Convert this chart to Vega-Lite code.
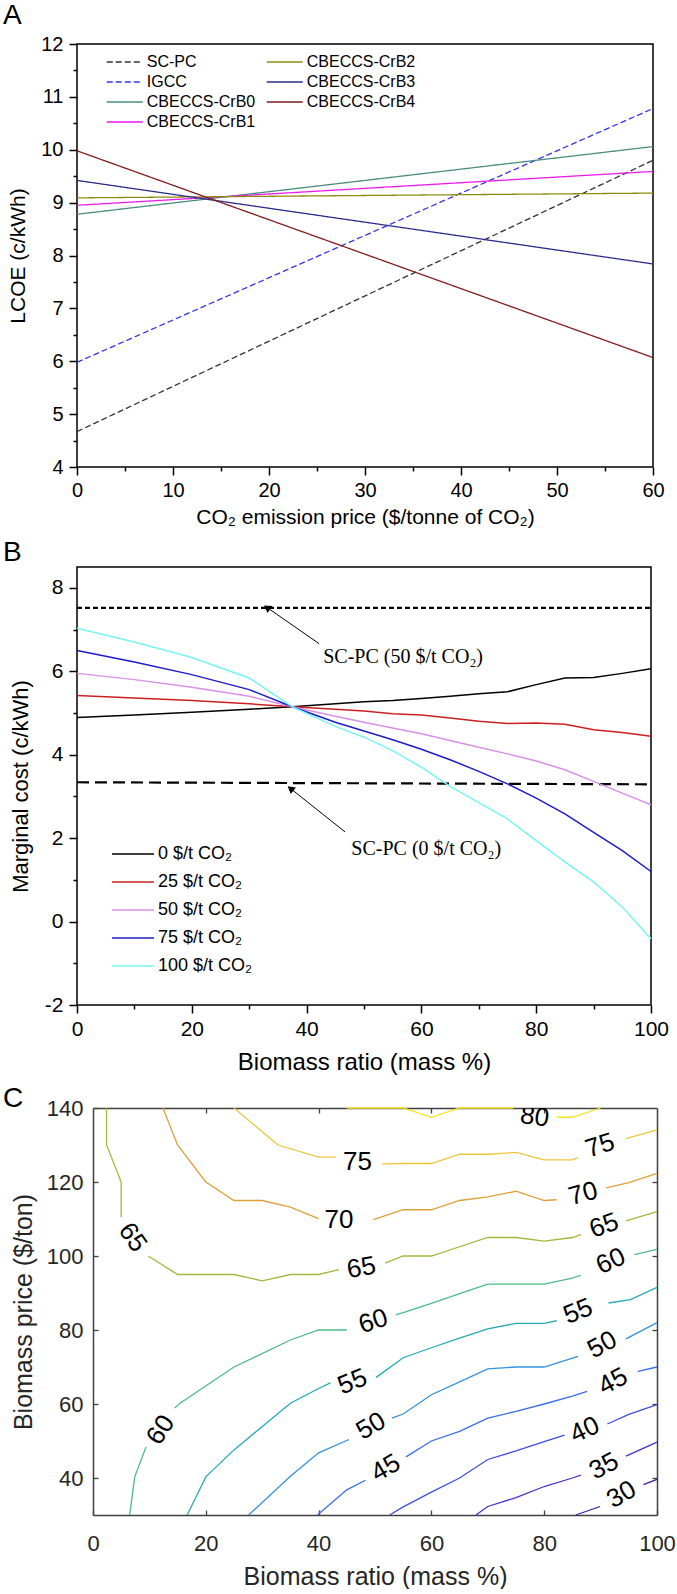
{
"$schema": "https://vega.github.io/schema/vega-lite/v6.json",
"background": "white",
"padding": {"left": 2, "top": 1, "right": 0, "bottom": 0},
"columns": 1,
"bounds": "full",
"spacing": 10,
"resolve": {"scale": {"color": "independent", "strokeDash": "independent"}, "legend": {"color": "independent", "strokeDash": "independent"}},
"config": {
  "font": "Liberation Sans",
  "axis": {"labelColor": "black", "titleColor": "black", "titleFontWeight": "normal", "grid": false, "labelFlush": false},
  "title": {"fontWeight": "normal", "color": "black", "anchor": "start", "frame": "group"},
  "legend": {"labelColor": "black"}
},
"datasets": {
  "lcoe": [
    {"s": "SC-PC", "x": 0, "y": 4.67}, {"s": "SC-PC", "x": 60, "y": 9.8},
    {"s": "IGCC", "x": 0, "y": 5.98}, {"s": "IGCC", "x": 60, "y": 10.78},
    {"s": "CBECCS-CrB0", "x": 0, "y": 8.78}, {"s": "CBECCS-CrB0", "x": 60, "y": 10.06},
    {"s": "CBECCS-CrB1", "x": 0, "y": 8.95}, {"s": "CBECCS-CrB1", "x": 60, "y": 9.59},
    {"s": "CBECCS-CrB2", "x": 0, "y": 9.09}, {"s": "CBECCS-CrB2", "x": 60, "y": 9.18},
    {"s": "CBECCS-CrB3", "x": 0, "y": 9.42}, {"s": "CBECCS-CrB3", "x": 60, "y": 7.84},
    {"s": "CBECCS-CrB4", "x": 0, "y": 9.98}, {"s": "CBECCS-CrB4", "x": 60, "y": 6.07}
  ],
  "marg": [
    {"s": "0 $/t CO₂", "x": 0, "y": 4.89}, {"s": "0 $/t CO₂", "x": 10, "y": 4.95}, {"s": "0 $/t CO₂", "x": 20, "y": 5.02}, {"s": "0 $/t CO₂", "x": 30, "y": 5.09}, {"s": "0 $/t CO₂", "x": 37.5, "y": 5.15}, {"s": "0 $/t CO₂", "x": 45, "y": 5.22}, {"s": "0 $/t CO₂", "x": 50, "y": 5.27}, {"s": "0 $/t CO₂", "x": 55, "y": 5.3}, {"s": "0 $/t CO₂", "x": 60, "y": 5.35}, {"s": "0 $/t CO₂", "x": 65, "y": 5.4}, {"s": "0 $/t CO₂", "x": 70, "y": 5.46}, {"s": "0 $/t CO₂", "x": 75, "y": 5.51}, {"s": "0 $/t CO₂", "x": 80, "y": 5.68}, {"s": "0 $/t CO₂", "x": 85, "y": 5.84}, {"s": "0 $/t CO₂", "x": 90, "y": 5.85}, {"s": "0 $/t CO₂", "x": 95, "y": 5.95}, {"s": "0 $/t CO₂", "x": 100, "y": 6.06},
    {"s": "25 $/t CO₂", "x": 0, "y": 5.42}, {"s": "25 $/t CO₂", "x": 10, "y": 5.36}, {"s": "25 $/t CO₂", "x": 20, "y": 5.3}, {"s": "25 $/t CO₂", "x": 30, "y": 5.22}, {"s": "25 $/t CO₂", "x": 37.5, "y": 5.15}, {"s": "25 $/t CO₂", "x": 45, "y": 5.09}, {"s": "25 $/t CO₂", "x": 50, "y": 5.05}, {"s": "25 $/t CO₂", "x": 55, "y": 4.98}, {"s": "25 $/t CO₂", "x": 60, "y": 4.95}, {"s": "25 $/t CO₂", "x": 65, "y": 4.88}, {"s": "25 $/t CO₂", "x": 70, "y": 4.8}, {"s": "25 $/t CO₂", "x": 75, "y": 4.75}, {"s": "25 $/t CO₂", "x": 80, "y": 4.76}, {"s": "25 $/t CO₂", "x": 85, "y": 4.73}, {"s": "25 $/t CO₂", "x": 90, "y": 4.6}, {"s": "25 $/t CO₂", "x": 95, "y": 4.53}, {"s": "25 $/t CO₂", "x": 100, "y": 4.44},
    {"s": "50 $/t CO₂", "x": 0, "y": 5.95}, {"s": "50 $/t CO₂", "x": 10, "y": 5.8}, {"s": "50 $/t CO₂", "x": 20, "y": 5.62}, {"s": "50 $/t CO₂", "x": 30, "y": 5.4}, {"s": "50 $/t CO₂", "x": 37.5, "y": 5.15}, {"s": "50 $/t CO₂", "x": 45, "y": 4.92}, {"s": "50 $/t CO₂", "x": 50, "y": 4.78}, {"s": "50 $/t CO₂", "x": 55, "y": 4.64}, {"s": "50 $/t CO₂", "x": 60, "y": 4.5}, {"s": "50 $/t CO₂", "x": 65, "y": 4.34}, {"s": "50 $/t CO₂", "x": 70, "y": 4.18}, {"s": "50 $/t CO₂", "x": 75, "y": 4.02}, {"s": "50 $/t CO₂", "x": 80, "y": 3.85}, {"s": "50 $/t CO₂", "x": 85, "y": 3.64}, {"s": "50 $/t CO₂", "x": 90, "y": 3.36}, {"s": "50 $/t CO₂", "x": 95, "y": 3.08}, {"s": "50 $/t CO₂", "x": 100, "y": 2.8},
    {"s": "75 $/t CO₂", "x": 0, "y": 6.5}, {"s": "75 $/t CO₂", "x": 10, "y": 6.22}, {"s": "75 $/t CO₂", "x": 20, "y": 5.92}, {"s": "75 $/t CO₂", "x": 30, "y": 5.56}, {"s": "75 $/t CO₂", "x": 37.5, "y": 5.15}, {"s": "75 $/t CO₂", "x": 45, "y": 4.78}, {"s": "75 $/t CO₂", "x": 50, "y": 4.57}, {"s": "75 $/t CO₂", "x": 55, "y": 4.36}, {"s": "75 $/t CO₂", "x": 60, "y": 4.13}, {"s": "75 $/t CO₂", "x": 65, "y": 3.88}, {"s": "75 $/t CO₂", "x": 70, "y": 3.6}, {"s": "75 $/t CO₂", "x": 75, "y": 3.3}, {"s": "75 $/t CO₂", "x": 80, "y": 2.96}, {"s": "75 $/t CO₂", "x": 85, "y": 2.58}, {"s": "75 $/t CO₂", "x": 90, "y": 2.14}, {"s": "75 $/t CO₂", "x": 95, "y": 1.7}, {"s": "75 $/t CO₂", "x": 100, "y": 1.2},
    {"s": "100 $/t CO₂", "x": 0, "y": 7.03}, {"s": "100 $/t CO₂", "x": 10, "y": 6.7}, {"s": "100 $/t CO₂", "x": 20, "y": 6.33}, {"s": "100 $/t CO₂", "x": 30, "y": 5.84}, {"s": "100 $/t CO₂", "x": 37.5, "y": 5.15}, {"s": "100 $/t CO₂", "x": 45, "y": 4.68}, {"s": "100 $/t CO₂", "x": 50, "y": 4.42}, {"s": "100 $/t CO₂", "x": 55, "y": 4.1}, {"s": "100 $/t CO₂", "x": 60, "y": 3.7}, {"s": "100 $/t CO₂", "x": 65, "y": 3.24}, {"s": "100 $/t CO₂", "x": 70, "y": 2.85}, {"s": "100 $/t CO₂", "x": 75, "y": 2.46}, {"s": "100 $/t CO₂", "x": 80, "y": 1.94}, {"s": "100 $/t CO₂", "x": 85, "y": 1.43}, {"s": "100 $/t CO₂", "x": 90, "y": 0.95}, {"s": "100 $/t CO₂", "x": 95, "y": 0.35}, {"s": "100 $/t CO₂", "x": 100, "y": -0.41}
  ],
  "refs": [
    {"r": "50", "x": 0, "y": 7.52}, {"r": "50", "x": 100, "y": 7.52},
    {"r": "0", "x": 0, "y": 3.34}, {"r": "0", "x": 100, "y": 3.29}
  ],
  "arrows": [
    {"a": "u", "x": 42.2, "y": 6.66}, {"a": "u", "x": 33.1, "y": 7.53},
    {"a": "l", "x": 46.7, "y": 2.15}, {"a": "l", "x": 37.2, "y": 3.19}
  ],
  "heads": [
    {"x": 33.1, "y": 7.53, "angle": 305},
    {"x": 37.2, "y": 3.19, "angle": 309}
  ],
  "notes": [
    {"x": 42.9, "y": 6.35, "t": "SC-PC (50 $/t CO₂)"},
    {"x": 47.8, "y": 1.75, "t": "SC-PC (0 $/t CO₂)"}
  ],
  "contours": [
    {"lv": 80, "sg": "80a", "i": 0, "x": 45, "y": 140}, {"lv": 80, "sg": "80a", "i": 1, "x": 55, "y": 140}, {"lv": 80, "sg": "80a", "i": 2, "x": 60, "y": 137.5}, {"lv": 80, "sg": "80a", "i": 3, "x": 65, "y": 140}, {"lv": 80, "sg": "80a", "i": 4, "x": 74.5, "y": 140},
    {"lv": 80, "sg": "80b", "i": 0, "x": 82.2, "y": 137.5}, {"lv": 80, "sg": "80b", "i": 1, "x": 85, "y": 137.5}, {"lv": 80, "sg": "80b", "i": 2, "x": 90, "y": 140},
    {"lv": 75, "sg": "75a", "i": 0, "x": 25, "y": 140}, {"lv": 75, "sg": "75a", "i": 1, "x": 32.8, "y": 130}, {"lv": 75, "sg": "75a", "i": 2, "x": 40, "y": 126.7}, {"lv": 75, "sg": "75a", "i": 3, "x": 43, "y": 126.7},
    {"lv": 75, "sg": "75b", "i": 0, "x": 51.3, "y": 124.9}, {"lv": 75, "sg": "75b", "i": 1, "x": 55, "y": 125}, {"lv": 75, "sg": "75b", "i": 2, "x": 60, "y": 125}, {"lv": 75, "sg": "75b", "i": 3, "x": 65, "y": 127.5}, {"lv": 75, "sg": "75b", "i": 4, "x": 70, "y": 127.5}, {"lv": 75, "sg": "75b", "i": 5, "x": 75, "y": 128}, {"lv": 75, "sg": "75b", "i": 6, "x": 80, "y": 126}, {"lv": 75, "sg": "75b", "i": 7, "x": 85, "y": 126}, {"lv": 75, "sg": "75b", "i": 8, "x": 86, "y": 126.6},
    {"lv": 75, "sg": "75c", "i": 0, "x": 94.5, "y": 131.7}, {"lv": 75, "sg": "75c", "i": 1, "x": 100, "y": 134.1},
    {"lv": 70, "sg": "70a", "i": 0, "x": 12.4, "y": 140}, {"lv": 70, "sg": "70a", "i": 1, "x": 15, "y": 130}, {"lv": 70, "sg": "70a", "i": 2, "x": 20, "y": 120}, {"lv": 70, "sg": "70a", "i": 3, "x": 25, "y": 115}, {"lv": 70, "sg": "70a", "i": 4, "x": 30, "y": 115}, {"lv": 70, "sg": "70a", "i": 5, "x": 35, "y": 113.2}, {"lv": 70, "sg": "70a", "i": 6, "x": 40, "y": 110.1},
    {"lv": 70, "sg": "70b", "i": 0, "x": 49.7, "y": 109.8}, {"lv": 70, "sg": "70b", "i": 1, "x": 55, "y": 112.5}, {"lv": 70, "sg": "70b", "i": 2, "x": 60, "y": 112.5}, {"lv": 70, "sg": "70b", "i": 3, "x": 65, "y": 115}, {"lv": 70, "sg": "70b", "i": 4, "x": 70, "y": 116}, {"lv": 70, "sg": "70b", "i": 5, "x": 75, "y": 117.5}, {"lv": 70, "sg": "70b", "i": 6, "x": 80, "y": 115}, {"lv": 70, "sg": "70b", "i": 7, "x": 82.2, "y": 115.2},
    {"lv": 70, "sg": "70c", "i": 0, "x": 91, "y": 118.4}, {"lv": 70, "sg": "70c", "i": 1, "x": 95, "y": 119.8}, {"lv": 70, "sg": "70c", "i": 2, "x": 100, "y": 122.3},
    {"lv": 65, "sg": "65a", "i": 0, "x": 2.4, "y": 140}, {"lv": 65, "sg": "65a", "i": 1, "x": 2.4, "y": 130}, {"lv": 65, "sg": "65a", "i": 2, "x": 5, "y": 120}, {"lv": 65, "sg": "65a", "i": 3, "x": 5, "y": 110.5},
    {"lv": 65, "sg": "65b", "i": 0, "x": 9.8, "y": 100}, {"lv": 65, "sg": "65b", "i": 1, "x": 15, "y": 95}, {"lv": 65, "sg": "65b", "i": 2, "x": 25, "y": 95}, {"lv": 65, "sg": "65b", "i": 3, "x": 30, "y": 93.3}, {"lv": 65, "sg": "65b", "i": 4, "x": 35, "y": 95}, {"lv": 65, "sg": "65b", "i": 5, "x": 40, "y": 95}, {"lv": 65, "sg": "65b", "i": 6, "x": 43.6, "y": 96.3},
    {"lv": 65, "sg": "65c", "i": 0, "x": 51.8, "y": 98.1}, {"lv": 65, "sg": "65c", "i": 1, "x": 55, "y": 100}, {"lv": 65, "sg": "65c", "i": 2, "x": 60, "y": 100}, {"lv": 65, "sg": "65c", "i": 3, "x": 65, "y": 102.5}, {"lv": 65, "sg": "65c", "i": 4, "x": 70, "y": 105}, {"lv": 65, "sg": "65c", "i": 5, "x": 75, "y": 105}, {"lv": 65, "sg": "65c", "i": 6, "x": 80, "y": 104}, {"lv": 65, "sg": "65c", "i": 7, "x": 85, "y": 105}, {"lv": 65, "sg": "65c", "i": 8, "x": 86.5, "y": 105.8},
    {"lv": 65, "sg": "65d", "i": 0, "x": 94.5, "y": 109.5}, {"lv": 65, "sg": "65d", "i": 1, "x": 100, "y": 112},
    {"lv": 60, "sg": "60a", "i": 0, "x": 6.5, "y": 30}, {"lv": 60, "sg": "60a", "i": 1, "x": 7.4, "y": 40.3}, {"lv": 60, "sg": "60a", "i": 2, "x": 9.4, "y": 48.4},
    {"lv": 60, "sg": "60b", "i": 0, "x": 14.5, "y": 58.9}, {"lv": 60, "sg": "60b", "i": 1, "x": 15.5, "y": 60.3}, {"lv": 60, "sg": "60b", "i": 2, "x": 25, "y": 70}, {"lv": 60, "sg": "60b", "i": 3, "x": 35, "y": 77.3}, {"lv": 60, "sg": "60b", "i": 4, "x": 40, "y": 80}, {"lv": 60, "sg": "60b", "i": 5, "x": 45, "y": 80},
    {"lv": 60, "sg": "60c", "i": 0, "x": 53.7, "y": 84.1}, {"lv": 60, "sg": "60c", "i": 1, "x": 55, "y": 84.7}, {"lv": 60, "sg": "60c", "i": 2, "x": 60, "y": 87.2}, {"lv": 60, "sg": "60c", "i": 3, "x": 65, "y": 89.8}, {"lv": 60, "sg": "60c", "i": 4, "x": 70, "y": 92.4}, {"lv": 60, "sg": "60c", "i": 5, "x": 75, "y": 92.4}, {"lv": 60, "sg": "60c", "i": 6, "x": 80, "y": 92.4}, {"lv": 60, "sg": "60c", "i": 7, "x": 85, "y": 94}, {"lv": 60, "sg": "60c", "i": 8, "x": 86.5, "y": 94.8},
    {"lv": 60, "sg": "60d", "i": 0, "x": 96, "y": 100.4}, {"lv": 60, "sg": "60d", "i": 1, "x": 100, "y": 101.8},
    {"lv": 55, "sg": "55a", "i": 0, "x": 16.7, "y": 30}, {"lv": 55, "sg": "55a", "i": 1, "x": 20, "y": 40.3}, {"lv": 55, "sg": "55a", "i": 2, "x": 25, "y": 47.6}, {"lv": 55, "sg": "55a", "i": 3, "x": 35, "y": 60.2}, {"lv": 55, "sg": "55a", "i": 4, "x": 40, "y": 64.2}, {"lv": 55, "sg": "55a", "i": 5, "x": 42.1, "y": 65.7},
    {"lv": 55, "sg": "55b", "i": 0, "x": 50.2, "y": 67.2}, {"lv": 55, "sg": "55b", "i": 1, "x": 55, "y": 72.5}, {"lv": 55, "sg": "55b", "i": 2, "x": 60, "y": 75.2}, {"lv": 55, "sg": "55b", "i": 3, "x": 65, "y": 77.8}, {"lv": 55, "sg": "55b", "i": 4, "x": 70, "y": 80.3}, {"lv": 55, "sg": "55b", "i": 5, "x": 75, "y": 81.8}, {"lv": 55, "sg": "55b", "i": 6, "x": 80, "y": 81.8}, {"lv": 55, "sg": "55b", "i": 7, "x": 82.2, "y": 82.5},
    {"lv": 55, "sg": "55c", "i": 0, "x": 91.4, "y": 87.3}, {"lv": 55, "sg": "55c", "i": 1, "x": 95.3, "y": 88.2}, {"lv": 55, "sg": "55c", "i": 2, "x": 100, "y": 91.5},
    {"lv": 50, "sg": "50a", "i": 0, "x": 27.6, "y": 30}, {"lv": 50, "sg": "50a", "i": 1, "x": 35, "y": 40.5}, {"lv": 50, "sg": "50a", "i": 2, "x": 40, "y": 46.8}, {"lv": 50, "sg": "50a", "i": 3, "x": 45.4, "y": 50.4},
    {"lv": 50, "sg": "50b", "i": 0, "x": 53, "y": 56.2}, {"lv": 50, "sg": "50b", "i": 1, "x": 55, "y": 57.3}, {"lv": 50, "sg": "50b", "i": 2, "x": 60, "y": 62.5}, {"lv": 50, "sg": "50b", "i": 3, "x": 65, "y": 66}, {"lv": 50, "sg": "50b", "i": 4, "x": 70, "y": 69.5}, {"lv": 50, "sg": "50b", "i": 5, "x": 75, "y": 70}, {"lv": 50, "sg": "50b", "i": 6, "x": 80, "y": 70}, {"lv": 50, "sg": "50b", "i": 7, "x": 86, "y": 72.9},
    {"lv": 50, "sg": "50c", "i": 0, "x": 94.5, "y": 77.6}, {"lv": 50, "sg": "50c", "i": 1, "x": 100, "y": 82},
    {"lv": 45, "sg": "45a", "i": 0, "x": 39.8, "y": 30}, {"lv": 45, "sg": "45a", "i": 1, "x": 45, "y": 36.8}, {"lv": 45, "sg": "45a", "i": 2, "x": 48.3, "y": 39.4},
    {"lv": 45, "sg": "45b", "i": 0, "x": 55.5, "y": 45.7}, {"lv": 45, "sg": "45b", "i": 1, "x": 60, "y": 50}, {"lv": 45, "sg": "45b", "i": 2, "x": 65, "y": 52.6}, {"lv": 45, "sg": "45b", "i": 3, "x": 70, "y": 56.2}, {"lv": 45, "sg": "45b", "i": 4, "x": 75, "y": 58}, {"lv": 45, "sg": "45b", "i": 5, "x": 80, "y": 60}, {"lv": 45, "sg": "45b", "i": 6, "x": 85, "y": 62.1}, {"lv": 45, "sg": "45b", "i": 7, "x": 87.6, "y": 63.4},
    {"lv": 45, "sg": "45c", "i": 0, "x": 96.6, "y": 68.8}, {"lv": 45, "sg": "45c", "i": 1, "x": 100, "y": 70},
    {"lv": 40, "sg": "40a", "i": 0, "x": 52.6, "y": 30}, {"lv": 40, "sg": "40a", "i": 1, "x": 55, "y": 32.2}, {"lv": 40, "sg": "40a", "i": 2, "x": 60, "y": 36.2}, {"lv": 40, "sg": "40a", "i": 3, "x": 65, "y": 40}, {"lv": 40, "sg": "40a", "i": 4, "x": 70, "y": 45}, {"lv": 40, "sg": "40a", "i": 5, "x": 75, "y": 47.3}, {"lv": 40, "sg": "40a", "i": 6, "x": 80, "y": 49.8}, {"lv": 40, "sg": "40a", "i": 7, "x": 83.6, "y": 51.6},
    {"lv": 40, "sg": "40b", "i": 0, "x": 91.2, "y": 54.6}, {"lv": 40, "sg": "40b", "i": 1, "x": 95, "y": 57.2}, {"lv": 40, "sg": "40b", "i": 2, "x": 100, "y": 59.8},
    {"lv": 35, "sg": "35a", "i": 0, "x": 67.9, "y": 30}, {"lv": 35, "sg": "35a", "i": 1, "x": 70, "y": 32.3}, {"lv": 35, "sg": "35a", "i": 2, "x": 75, "y": 34.7}, {"lv": 35, "sg": "35a", "i": 3, "x": 80, "y": 37.7}, {"lv": 35, "sg": "35a", "i": 4, "x": 85, "y": 40}, {"lv": 35, "sg": "35a", "i": 5, "x": 86.5, "y": 40.8},
    {"lv": 35, "sg": "35b", "i": 0, "x": 94.5, "y": 45.9}, {"lv": 35, "sg": "35b", "i": 1, "x": 100, "y": 49.7},
    {"lv": 30, "sg": "30a", "i": 0, "x": 85.6, "y": 30}, {"lv": 30, "sg": "30a", "i": 1, "x": 89.9, "y": 32.3},
    {"lv": 30, "sg": "30b", "i": 0, "x": 97.6, "y": 38.2}, {"lv": 30, "sg": "30b", "i": 1, "x": 100, "y": 39.6}
  ],
  "clabels": [
    {"lv": 80, "x": 78.3, "y": 137.6, "angle": 8},
    {"lv": 75, "x": 46.9, "y": 125.3, "angle": 0}, {"lv": 75, "x": 89.9, "y": 129.8, "angle": -18},
    {"lv": 70, "x": 43.6, "y": 109.6, "angle": 0}, {"lv": 70, "x": 86.9, "y": 116.8, "angle": -15},
    {"lv": 65, "x": 7.0, "y": 105.0, "angle": 55}, {"lv": 65, "x": 47.6, "y": 96.8, "angle": -10}, {"lv": 65, "x": 90.6, "y": 108.2, "angle": -20},
    {"lv": 60, "x": 12.0, "y": 53.0, "angle": -57}, {"lv": 60, "x": 49.7, "y": 82.3, "angle": -18}, {"lv": 60, "x": 91.8, "y": 98.6, "angle": -25},
    {"lv": 55, "x": 46.0, "y": 66.0, "angle": -22}, {"lv": 55, "x": 86.0, "y": 85.0, "angle": -22},
    {"lv": 50, "x": 49.3, "y": 54.0, "angle": -30}, {"lv": 50, "x": 90.3, "y": 76.0, "angle": -28},
    {"lv": 45, "x": 51.9, "y": 42.7, "angle": -30}, {"lv": 45, "x": 92.2, "y": 66.1, "angle": -28},
    {"lv": 40, "x": 87.2, "y": 53.0, "angle": -25},
    {"lv": 35, "x": 90.6, "y": 43.2, "angle": -28},
    {"lv": 30, "x": 93.7, "y": 35.5, "angle": -30}
  ]
},
"concat": [
  {
    "title": {"text": "A", "fontSize": 28, "dx": -74, "offset": 4},
    "width": 576, "height": 423,
    "view": {"stroke": "black", "strokeWidth": 1.5},
    "data": {"name": "lcoe"},
    "mark": {"type": "line", "strokeWidth": 1.3},
    "encoding": {
      "x": {"field": "x", "type": "quantitative", "scale": {"domain": [0, 60], "nice": false},
        "axis": {"values": [0, 5, 10, 15, 20, 25, 30, 35, 40, 45, 50, 55, 60],
          "labelExpr": "datum.value % 10 === 0 ? '' + datum.value : ''",
          "tickSize": {"condition": {"test": "datum.value % 10 === 0", "value": 8}, "value": 4},
          "tickColor": "black", "tickWidth": 1.5, "domain": false,
          "labelFontSize": 20, "labelPadding": 5,
          "title": "CO₂ emission price ($/tonne of CO₂)", "titleFontSize": 21, "titlePadding": 6}},
      "y": {"field": "y", "type": "quantitative", "scale": {"domain": [4, 12], "nice": false},
        "axis": {"values": [4, 4.5, 5, 5.5, 6, 6.5, 7, 7.5, 8, 8.5, 9, 9.5, 10, 10.5, 11, 11.5, 12],
          "labelExpr": "datum.value % 1 === 0 ? '' + datum.value : ''",
          "tickSize": {"condition": {"test": "datum.value % 1 === 0", "value": 8}, "value": 4},
          "tickColor": "black", "tickWidth": 1.5, "domain": false,
          "labelFontSize": 20, "labelPadding": 6,
          "title": "LCOE (c/kWh)", "titleFontSize": 21, "titlePadding": 12}},
      "color": {"field": "s", "type": "nominal",
        "scale": {"domain": ["SC-PC", "IGCC", "CBECCS-CrB0", "CBECCS-CrB1", "CBECCS-CrB2", "CBECCS-CrB3", "CBECCS-CrB4"],
                  "range": ["#333333", "#3535e8", "#4a8c80", "#ee1aee", "#8c8c10", "#2c2c8c", "#801c1c"]},
        "legend": {"orient": "none", "legendX": 38.75, "legendY": 9, "columns": 2, "title": null,
          "symbolType": "M-2.25,0H2.25", "symbolSize": 256, "symbolStrokeWidth": 1.5,
          "labelFontSize": 16, "rowPadding": 3, "columnPadding": 8, "labelOffset": 13, "padding": 0}},
      "strokeDash": {"field": "s", "type": "nominal",
        "scale": {"domain": ["SC-PC", "IGCC", "CBECCS-CrB0", "CBECCS-CrB1", "CBECCS-CrB2", "CBECCS-CrB3", "CBECCS-CrB4"],
                  "range": [[6, 3], [6, 3], [1, 0], [1, 0], [1, 0], [1, 0], [1, 0]]}}
    }
  },
  {
    "title": {"text": "B", "fontSize": 28, "dx": -74, "offset": 0},
    "width": 574, "height": 438,
    "view": {"stroke": "black", "strokeWidth": 1.5},
    "layer": [
      {
        "data": {"name": "refs"},
        "transform": [{"filter": "datum.r === '50'"}],
        "mark": {"type": "line", "color": "black", "strokeWidth": 2.2, "strokeDash": [5, 3]},
        "encoding": {
          "x": {"field": "x", "type": "quantitative", "scale": {"domain": [0, 100], "nice": false},
            "axis": {"values": [0, 10, 20, 30, 40, 50, 60, 70, 80, 90, 100],
              "labelExpr": "datum.value % 20 === 0 ? '' + datum.value : ''",
              "tickSize": {"condition": {"test": "datum.value % 20 === 0", "value": 8}, "value": 4},
              "tickColor": "black", "tickWidth": 1.5, "domain": false,
              "labelFontSize": 21, "labelPadding": 5,
              "title": "Biomass ratio (mass %)", "titleFontSize": 24, "titlePadding": 11}},
          "y": {"field": "y", "type": "quantitative", "scale": {"domain": [-2, 8.5], "nice": false},
            "axis": {"values": [-2, -1, 0, 1, 2, 3, 4, 5, 6, 7, 8],
              "labelExpr": "datum.value % 2 === 0 ? '' + datum.value : ''",
              "tickSize": {"condition": {"test": "datum.value % 2 === 0", "value": 8}, "value": 4},
              "tickColor": "black", "tickWidth": 1.5, "domain": false,
              "labelFontSize": 21, "labelPadding": 6,
              "title": "Marginal cost (c/kWh)", "titleFontSize": 22, "titlePadding": 12}}
        }
      },
      {
        "data": {"name": "refs"},
        "transform": [{"filter": "datum.r === '0'"}],
        "mark": {"type": "line", "color": "black", "strokeWidth": 2.2, "strokeDash": [12, 6]},
        "encoding": {
          "x": {"field": "x", "type": "quantitative"},
          "y": {"field": "y", "type": "quantitative"}
        }
      },
      {
        "data": {"name": "marg"},
        "mark": {"type": "line", "strokeWidth": 1.5},
        "encoding": {
          "x": {"field": "x", "type": "quantitative"},
          "y": {"field": "y", "type": "quantitative"},
          "color": {"field": "s", "type": "nominal",
            "scale": {"domain": ["0 $/t CO₂", "25 $/t CO₂", "50 $/t CO₂", "75 $/t CO₂", "100 $/t CO₂"],
                      "range": ["#000000", "#cc2020", "#d890e8", "#1c1cc8", "#78f4f4"]},
            "legend": {"orient": "none", "legendX": 46, "legendY": 277, "title": null,
              "symbolType": "M-2.333,0H2.333", "symbolSize": 324, "symbolStrokeWidth": 1.5,
              "labelFontSize": 18, "rowPadding": 9, "labelOffset": 15, "padding": 0}}
        }
      },
      {
        "data": {"name": "arrows"},
        "mark": {"type": "line", "color": "black", "strokeWidth": 1},
        "encoding": {
          "x": {"field": "x", "type": "quantitative"},
          "y": {"field": "y", "type": "quantitative"},
          "detail": {"field": "a"}
        }
      },
      {
        "data": {"name": "heads"},
        "mark": {"type": "point", "shape": "triangle-up", "filled": true, "color": "black", "size": 70, "opacity": 1},
        "encoding": {
          "x": {"field": "x", "type": "quantitative"},
          "y": {"field": "y", "type": "quantitative"},
          "angle": {"field": "angle", "type": "quantitative", "scale": null}
        }
      },
      {
        "data": {"name": "notes"},
        "mark": {"type": "text", "font": "Liberation Serif", "fontSize": 20, "align": "left", "baseline": "middle", "color": "black"},
        "encoding": {
          "x": {"field": "x", "type": "quantitative"},
          "y": {"field": "y", "type": "quantitative"},
          "text": {"field": "t"}
        }
      }
    ]
  },
  {
    "title": {"text": "C", "fontSize": 28, "dx": -74, "offset": -16},
    "width": 580, "height": 407,
    "view": {"stroke": null},
    "resolve": {"axis": {"x": "independent", "y": "independent"}},
    "layer": [
      {
        "data": {"name": "contours"},
        "mark": {"type": "line", "strokeWidth": 1.3},
        "encoding": {
          "x": {"field": "x", "type": "quantitative", "scale": {"domain": [0, 100], "nice": false, "rangeMin": 16},
            "axis": {"orient": "bottom", "values": [0, 20, 40, 60, 80, 100], "tickSize": -5, "tickColor": "#404040", "tickWidth": 1.3,
              "domain": true, "domainColor": "#404040", "domainWidth": 1.5,
              "labelFontSize": 22, "labelColor": "#262626", "labelPadding": 23,
              "title": "Biomass ratio (mass %)", "titleFontSize": 25, "titleColor": "#262626", "titlePadding": 10}},
          "y": {"field": "y", "type": "quantitative", "scale": {"domain": [30, 140], "nice": false},
            "axis": {"orient": "left", "offset": -16, "values": [40, 60, 80, 100, 120, 140], "tickSize": -5, "tickColor": "#404040", "tickWidth": 1.3,
              "domain": true, "domainColor": "#404040", "domainWidth": 1.5,
              "labelFontSize": 22, "labelColor": "#262626", "labelPadding": 15,
              "title": "Biomass price ($/ton)", "titleFontSize": 25, "titleColor": "#262626", "titlePadding": 10}},
          "color": {"field": "lv", "type": "ordinal",
            "scale": {"domain": [30, 35, 40, 45, 50, 55, 60, 65, 70, 75, 80],
                      "range": ["#3b1fa0", "#4232c8", "#3f4ee0", "#3a6ee8", "#3592de", "#25aab8", "#4cbb84", "#9cbb3c", "#dea03a", "#efc53e", "#f3e621"]},
            "legend": null},
          "detail": {"field": "sg"},
          "order": {"field": "i", "type": "quantitative"}
        }
      },
      {
        "data": {"name": "clabels"},
        "mark": {"type": "text", "fontSize": 26, "color": "black", "align": "center", "baseline": "middle", "clip": true},
        "encoding": {
          "x": {"field": "x", "type": "quantitative",
            "axis": {"orient": "top", "values": [20, 40, 60, 80], "tickSize": -5, "tickColor": "#404040", "tickWidth": 1.3,
              "domain": true, "domainColor": "#404040", "domainWidth": 1.5, "labels": false, "title": null}},
          "y": {"field": "y", "type": "quantitative",
            "axis": {"orient": "right", "values": [40, 60, 80, 100, 120], "tickSize": -5, "tickColor": "#404040", "tickWidth": 1.3,
              "domain": true, "domainColor": "#404040", "domainWidth": 1.5, "labels": false, "title": null}},
          "text": {"field": "lv", "type": "nominal"},
          "angle": {"field": "angle", "type": "quantitative", "scale": null}
        }
      }
    ]
  }
]
}
